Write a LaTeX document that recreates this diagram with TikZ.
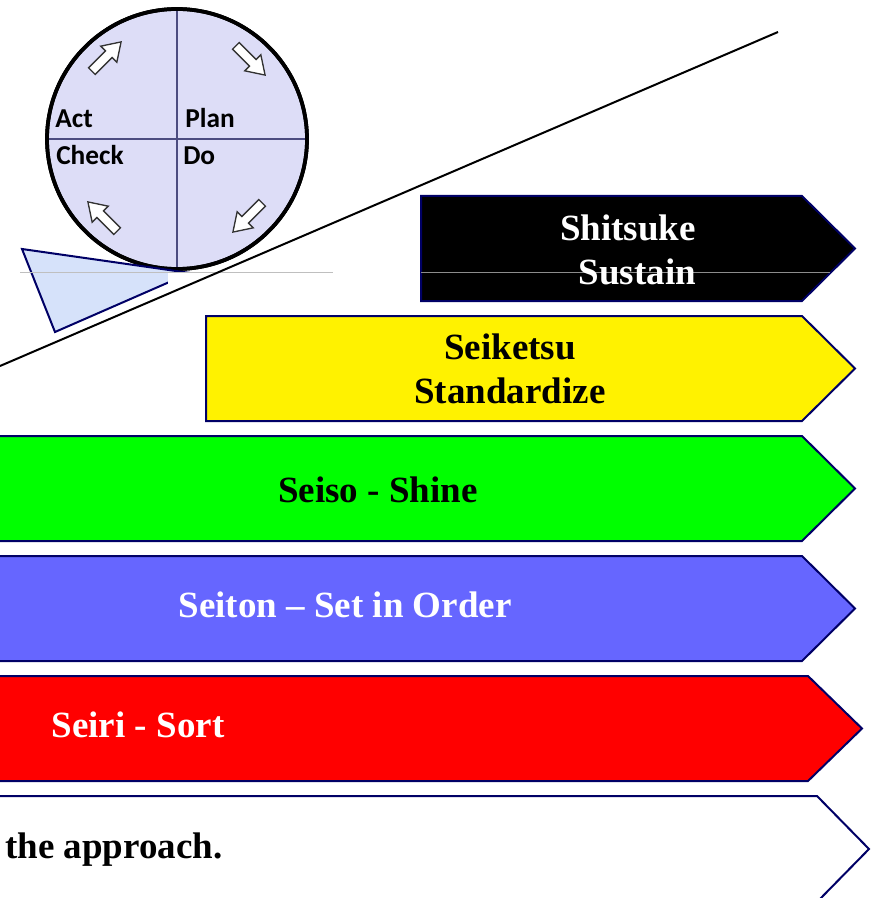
\documentclass[tikz,border=0pt]{standalone}
\usepackage{fontspec}
\setmainfont{Liberation Serif}
\newfontfamily\pdcafont{Carlito}
\usetikzlibrary{shapes,arrows}
\definecolor{navyline}{RGB}{0,0,102}
\definecolor{lavender}{RGB}{221,221,247}
\definecolor{wedgeblue}{RGB}{214,226,250}
\definecolor{setblue}{RGB}{102,102,255}
\tikzstyle{stepshape} = [draw=navyline, line width=1.5pt, line join=miter]
\tikzstyle{steptext} = [font=\fontsize{27.75}{33}\selectfont\bfseries, align=center, inner sep=0pt]
\tikzstyle{pdcalabel} = [font=\pdcafont\fontsize{20.5}{22}\selectfont\bfseries, anchor=base west, inner sep=0pt, text=black]
\tikzset{cyclearrow/.pic={
  \draw[line width=1pt, draw=black!80, fill=white] (-15pt,-3.5pt) -- (3pt,-3.5pt) -- (3pt,-8.5pt)
    -- (16pt,0pt) -- (3pt,8.5pt) -- (3pt,3.5pt) -- (-15pt,3.5pt) -- cycle;}}
% fill, left, top, bottom, shoulder, tip
\newcommand{\chevron}[6]{%
  \draw[stepshape, fill=#1] (#2,#3) -- (#5,#3) -- (#6,{(#3+#4)/2}) -- (#5,#4) -- (#2,#4) -- cycle;}

\begin{document}
\begin{tikzpicture}[x=0.75pt, y=-0.75pt]
    \useasboundingbox (0,0) rectangle (872,898);
    \clip (0,0) rectangle (872,898);

    % the PDCA wheel
    \node [draw, circle, fill=lavender, line width=2.8pt, minimum size=195pt, inner sep=0pt, outer sep=0pt] (pdca) at (177,139) {};
    \draw [draw=black!50!blue!40!gray, line width=0.8pt] (pdca.north) -- (pdca.south);
    \draw [draw=black!50!blue!40!gray, line width=0.8pt] (pdca.west) -- (pdca.east);
    \draw [line width=2.8pt] (pdca) circle [radius=97.5pt];
    \node [pdcalabel] (act) at (55,128) {Act};
    \node [pdcalabel] (plan) at (185,128) {Plan};
    \node [pdcalabel] (check) at (56,165) {Check};
    \node [pdcalabel] (do) at (183,165) {Do};
    \pic [rotate=45] at (106,57) {cyclearrow};
    \pic [rotate=-45] at (250,60) {cyclearrow};
    \pic [rotate=-135] at (248,217) {cyclearrow};
    \pic [rotate=135] at (103,217) {cyclearrow};

    % wedge and slope line
    \draw [stepshape, fill=wedgeblue] (22,249) -- (190,273) -- (55,332) -- cycle;
    \fill [white] (168,272) rectangle (333,285);
    \draw [black!25, line width=0.5pt] (20,272) -- (333,272);
    \draw [line width=1.5pt] (0,366) -- (778,32);

    % the five steps
    \chevron{black}{421}{196}{301}{802}{855}
    \draw [black!45, line width=0.6pt] (421,272) -- (830,272);
    \chevron{yellow}{206}{316}{421}{802}{855}
    \chevron{green}{-10}{436}{541}{802}{855}
    \chevron{setblue}{-10}{556}{661}{802}{855}
    \chevron{red}{-10}{676}{781}{808}{862}
    \chevron{white}{-10}{796}{902}{817}{869}

    \node [steptext, text=white] (sustain) at (628,250) {Shitsuke\\\hspace*{0.5em}Sustain};
    \node [steptext] (standardize) at (510,369) {Seiketsu\\Standardize};
    \node [steptext] (shine) at (378,490) {Seiso - Shine};
    \node [steptext, text=white] (order) at (345,605) {Seiton -- Set in Order};
    \node [steptext, text=white] (sort) at (138,725) {Seiri - Sort};
    \node [steptext, anchor=west] (approach) at (5,850) {the approach.};
\end{tikzpicture}
\end{document}
